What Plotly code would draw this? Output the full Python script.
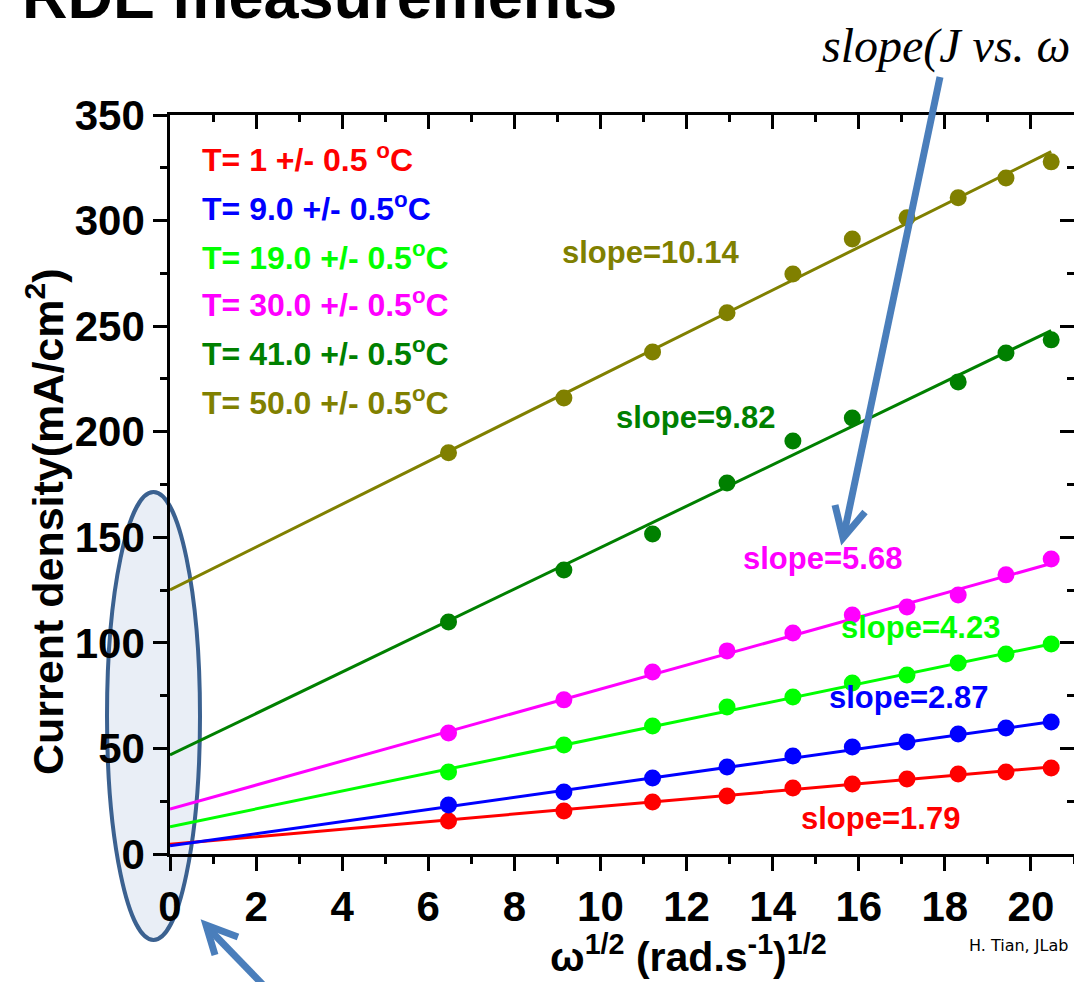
import plotly.graph_objects as go

# sqrt of angular velocity, (rad/s)^1/2
omega_sqrt = [6.47, 9.15, 11.21, 12.94, 14.47, 15.85, 17.12, 18.31, 19.42, 20.47]

# current density (mA/cm^2) at each temperature
j_t1 = [15.6, 20.4, 24.6, 27.5, 31.3, 33.2, 35.5, 37.9, 38.8, 40.7]
j_t9 = [23.2, 29.4, 36.0, 41.2, 46.4, 50.7, 53.1, 56.8, 59.7, 62.5]
j_t19 = [38.8, 51.6, 60.6, 69.6, 74.4, 81.0, 84.8, 90.5, 94.7, 99.5]
j_t30 = [57.3, 73.0, 86.2, 96.2, 104.7, 113.2, 117.0, 122.7, 132.2, 139.7]
j_t41 = [109.9, 134.5, 151.6, 175.7, 195.6, 206.5, None, 223.6, 237.3, 243.5]
j_t50 = [190.0, 216.0, 237.8, 256.3, 274.7, 291.3, 301.3, 310.8, 320.2, 327.8]

series = [j_t1, j_t9, j_t19, j_t30, j_t41, j_t50]
legend_labels = [
    "T= 1 +/- 0.5 <sup>o</sup>C",
    "T= 9.0 +/- 0.5<sup>o</sup>C",
    "T= 19.0 +/- 0.5<sup>o</sup>C",
    "T= 30.0 +/- 0.5<sup>o</sup>C",
    "T= 41.0 +/- 0.5<sup>o</sup>C",
    "T= 50.0 +/- 0.5<sup>o</sup>C",
]
colors = ["#ff0000", "#0000ff", "#00ff00", "#ff00ff", "#008000", "#808000"]

# linear fits J = intercept + slope * omega^1/2
slopes = [1.79, 2.87, 4.23, 5.68, 9.82, 10.14]
intercepts = [4.6, 3.9, 12.9, 21.3, 46.9, 125.1]

W, H = 1074, 982
L, T, B = 170, 115, 128
PW, PH = W - L, H - T - B
FONT = "Liberation Sans, Arial, sans-serif"


def px(xp):
    return (xp - L) / PW


def py(yp):
    return (T + PH - yp) / PH


fig = go.Figure()

for ys, col, m, b in zip(series, colors, slopes, intercepts):
    x_fit = [0, omega_sqrt[-1]]
    fig.add_trace(go.Scatter(
        x=x_fit, y=[b + m * x for x in x_fit], mode="lines",
        line=dict(color=col, width=3), showlegend=False, hoverinfo="skip"))
    fig.add_trace(go.Scatter(
        x=omega_sqrt, y=ys, mode="markers",
        marker=dict(color=col, size=17), showlegend=False))

# companion axes for the top and right frame ticks
fig.add_trace(go.Scatter(x=[None], y=[None], xaxis="x2", yaxis="y2",
                         showlegend=False, hoverinfo="skip"))

tickfont = dict(family=FONT, size=42, color="black", weight="bold")
fig.update_layout(
    width=W, height=H,
    margin=dict(l=L, r=0, t=T, b=B),
    paper_bgcolor="white", plot_bgcolor="white",
    xaxis=dict(range=[0, 21], dtick=2, tick0=0, showgrid=False, zeroline=False,
               showline=True, linecolor="black", linewidth=2.5,
               ticks="outside", ticklen=14, tickwidth=2.5, tickcolor="black",
               minor=dict(dtick=1, ticks="outside", ticklen=7, tickwidth=2.5,
                          tickcolor="black", showgrid=False),
               tickfont=tickfont),
    yaxis=dict(range=[0, 350], dtick=50, tick0=0, showgrid=False, zeroline=False,
               showline=True, linecolor="black", linewidth=2.5,
               ticks="outside", ticklen=14, tickwidth=2.5, tickcolor="black",
               minor=dict(dtick=25, ticks="outside", ticklen=7, tickwidth=2.5,
                          tickcolor="black", showgrid=False),
               tickfont=tickfont),
    xaxis2=dict(range=[0, 21], dtick=2, tick0=0, overlaying="x", side="top",
                anchor="y", showgrid=False, zeroline=False, showticklabels=False,
                showline=True, linecolor="black", linewidth=2.5,
                ticks="inside", ticklen=14, tickwidth=2.5, tickcolor="black",
                minor=dict(dtick=1, ticks="inside", ticklen=7, tickwidth=2.5,
                           tickcolor="black", showgrid=False)),
    yaxis2=dict(range=[0, 350], dtick=50, tick0=0, overlaying="y", side="right",
                anchor="x", showgrid=False, zeroline=False, showticklabels=False,
                showline=False,
                ticks="inside", ticklen=14, tickwidth=2.5, tickcolor="black",
                minor=dict(dtick=25, ticks="inside", ticklen=7, tickwidth=2.5,
                           tickcolor="black", showgrid=False)),
)

ann = []

# legend text
legend_y = [158, 207, 256, 303, 352, 401]
for lab, col, yy in zip(legend_labels, colors, legend_y):
    ann.append(dict(text=lab, x=px(200), y=py(yy), xref="paper", yref="paper",
                    xanchor="left", yanchor="middle", showarrow=False,
                    font=dict(family=FONT, size=32, color=col, weight="bold")))

# slope labels
slope_pos = [(880, 818), (908, 697), (920, 627), (822, 558), (695, 418), (650, 252)]
for m, col, (xx, yy) in zip(slopes, colors, slope_pos):
    ann.append(dict(text=f"slope={m:.2f}", x=px(xx), y=py(yy), xref="paper",
                    yref="paper", xanchor="center", yanchor="middle",
                    showarrow=False,
                    font=dict(family=FONT, size=31, color=col, weight="bold")))

# axis titles
ann.append(dict(text="Current density(mA/cm<sup>2</sup>)", x=px(45), y=py(522),
                xref="paper", yref="paper", textangle=-90, showarrow=False,
                xanchor="center", yanchor="middle",
                font=dict(family=FONT, size=43, color="black", weight="bold")))
ann.append(dict(text="ω<sup>1/2</sup> (rad.s<sup>-1</sup>)<sup>1/2</sup>",
                x=px(688), y=py(954), xref="paper", yref="paper", showarrow=False,
                xanchor="center", yanchor="middle",
                font=dict(family=FONT, size=41, color="black", weight="bold")))

# heading, credit and note
ann.append(dict(text="RDE measurements", x=px(20), y=py(33), xref="paper",
                yref="paper", xanchor="left", yanchor="bottom", showarrow=False,
                font=dict(family=FONT, size=63, color="black", weight="bold")))
ann.append(dict(text="H. Tian, JLab", x=px(1018), y=py(945), xref="paper",
                yref="paper", xanchor="center", yanchor="middle", showarrow=False,
                font=dict(family="DejaVu Sans, Verdana, sans-serif", size=16,
                          color="black")))
ann.append(dict(text="<i>slope(J vs. ω</i>", x=px(820), y=py(46), xref="paper",
                yref="paper", xanchor="left", yanchor="middle", showarrow=False,
                font=dict(family="Liberation Serif, Times New Roman, serif",
                          size=48, color="black")))

fig.update_layout(annotations=ann)

ARROW = "#4a7ebb"
shapes = [
    # highlight of the intercept region
    dict(type="circle", xref="paper", yref="paper", layer="below",
         x0=px(107), x1=px(200), y0=py(940), y1=py(492),
         fillcolor="#e9eef6", line=dict(color="#3b6190", width=4)),
    # arrow pointing at the slope labels
    dict(type="line", xref="paper", yref="paper", layer="above",
         x0=px(940), y0=py(77), x1=px(844), y1=py(534),
         line=dict(color=ARROW, width=7)),
    dict(type="path", xref="paper", yref="paper", layer="above",
         path=f"M {px(835)} {py(505)} L {px(843)} {py(538)} L {px(865)} {py(512)}",
         line=dict(color=ARROW, width=7)),
    # arrow pointing at the intercepts
    dict(type="line", xref="paper", yref="paper", layer="above",
         x0=px(268), y0=py(990), x1=px(208), y1=py(928),
         line=dict(color=ARROW, width=7)),
    dict(type="path", xref="paper", yref="paper", layer="above",
         path=f"M {px(215)} {py(955)} L {px(206)} {py(925)} L {px(238)} {py(937)}",
         line=dict(color=ARROW, width=7)),
]
fig.update_layout(shapes=shapes)

fig.write_html("out.html")
